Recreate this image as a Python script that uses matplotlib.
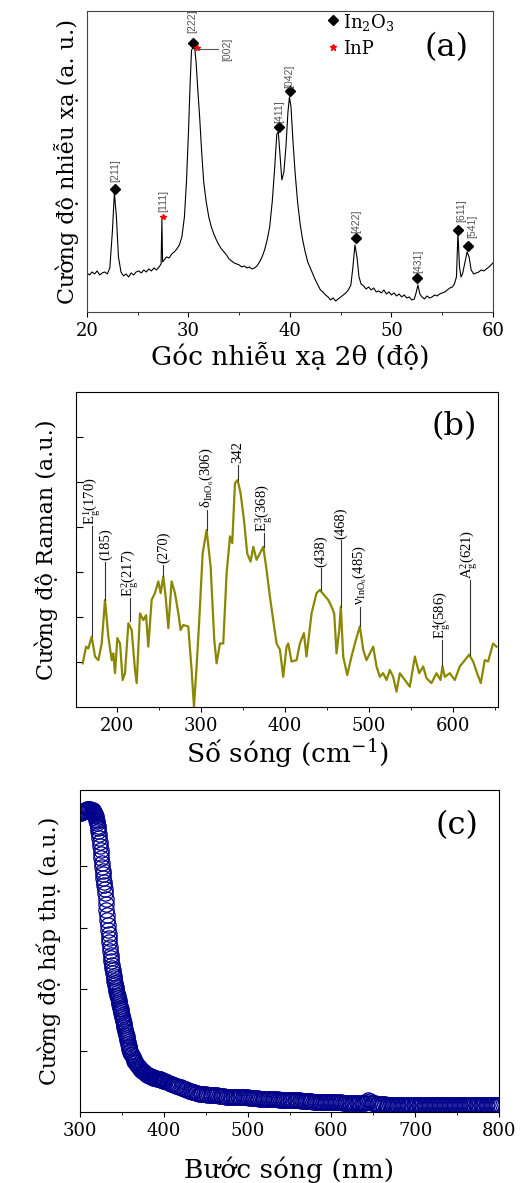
import numpy as np
import matplotlib.pyplot as plt

plt.rcParams['font.family'] = ['DejaVu Serif']
plt.rcParams['mathtext.default'] = 'regular'

# (a) XRD - goc 2theta va cuong do (don vi tuy y)
xrd_x = [20.0, 20.25, 20.5, 20.75, 21.0, 21.25, 21.5, 21.75, 22.0, 22.25, 22.5, 22.7, 22.9, 23.1, 23.35,
         23.6, 23.85, 24.1, 24.35, 24.6, 24.85, 25.1, 25.35, 25.6, 25.85, 26.1, 26.35, 26.6, 26.85, 27.1,
         27.3, 27.38, 27.45, 27.6, 27.85, 28.1, 28.35, 28.6, 28.85, 29.1, 29.35, 29.6, 29.8, 30.0, 30.15,
         30.3, 30.45, 30.6, 30.75, 30.9, 31.1, 31.3, 31.5, 31.75, 32.0, 32.25, 32.5, 32.75, 33.0, 33.25,
         33.5, 33.75, 34.0, 34.25, 34.5, 34.75, 35.0, 35.25, 35.5, 35.75, 36.0, 36.25, 36.5, 36.75, 37.0,
         37.25, 37.5, 37.75, 38.0, 38.25, 38.5, 38.7, 38.85, 39.0, 39.2, 39.4, 39.6, 39.8, 39.95, 40.1,
         40.3, 40.5, 40.75, 41.0, 41.25, 41.5, 41.75, 42.0, 42.25, 42.5, 42.75, 43.0, 43.25, 43.5, 43.75,
         44.0, 44.25, 44.5, 44.75, 45.0, 45.25, 45.5, 45.75, 46.0, 46.2, 46.4, 46.6, 46.8, 47.0, 47.25,
         47.5, 47.75, 48.0, 48.25, 48.5, 48.75, 49.0, 49.25, 49.5, 49.75, 50.0, 50.25, 50.5, 50.75, 51.0,
         51.25, 51.5, 51.75, 52.0, 52.25, 52.45, 52.6, 52.8, 53.0, 53.25, 53.5, 53.75, 54.0, 54.25, 54.5,
         54.75, 55.0, 55.25, 55.5, 55.75, 56.0, 56.2, 56.4, 56.55, 56.7, 56.85, 57.0, 57.2, 57.45, 57.65,
         57.85, 58.1, 58.35, 58.6, 58.85, 59.1, 59.35, 59.6, 59.8, 60.0]
xrd_y = [39, 37, 40, 38, 41, 37, 39, 40, 38, 44, 80, 119, 95, 55, 40,
         36, 38, 35, 39, 37, 40, 41, 39, 42, 40, 43, 41, 44, 42, 45,
         48, 92, 50, 52, 55, 54, 58, 60, 63, 67, 75, 95, 130, 180, 225,
         262, 264, 265, 250, 225, 195, 160, 130, 110, 95, 85, 78, 72, 67, 63,
         60, 57, 53, 51, 49, 48, 47, 45, 46, 44, 45, 43, 44, 46, 50,
         55, 62, 72, 85, 110, 145, 178, 180, 160, 132, 140, 165, 200, 215, 205,
         170, 140, 110, 88, 72, 60, 50, 44, 38, 32, 27, 22, 20, 17, 15,
         12, 14, 11, 13, 15, 17, 19, 22, 27, 45, 67, 55, 35, 28, 26,
         23, 25, 22, 24, 20, 21, 19, 22, 18, 20, 17, 19, 16, 18, 15,
         17, 14, 15, 12, 13, 20, 27, 18, 15, 13, 16, 14, 15, 17, 16,
         18, 19, 20, 22, 24, 25, 28, 35, 79, 45, 35, 38, 48, 60, 55,
         42, 38, 39, 40, 42, 41, 43, 45, 47, 49]

# vi tri cac dinh In2O3 (hinh thoi) va InP (sao)
in2o3_x = [22.8, 30.4, 38.95, 40.0, 46.5, 52.5, 56.6, 57.5]
in2o3_y = [123, 269, 185, 221, 74, 34, 82, 66]
inp_x = [27.45, 30.8]
inp_y = [95, 264]

xrd_lbl = ['[211]', '[111]', '[222]', '[411]', '[042]', '[422]', '[431]', '[611]', '[541]']
xrd_lbl_x = [22.75, 27.5, 30.4, 38.95, 39.95, 46.55, 52.6, 56.9, 58.0]
xrd_lbl_y = [130, 100, 279, 189, 224, 79, 39, 90, 74]

# (b) Raman
raman_x = [159.6, 163.6, 166.3, 170.3, 174.3, 178.2, 182.2, 186.1, 190.1, 194.1, 196.0, 198.0, 200.8,
           204.0, 207.1, 209.9, 213.9, 217.8, 221.8, 223.8, 227.7, 231.7, 234.9, 237.6, 241.6, 245.5,
           249.5, 252.3, 255.4, 258.2, 261.4, 265.3, 269.3, 273.3, 276.0, 279.2, 285.1, 289.1, 291.9,
           295.0, 298.2, 302.2, 306.9, 311.7, 316.0, 318.8, 322.8, 326.7, 330.7, 334.7, 337.4, 340.6,
           343.8, 347.3, 351.3, 355.2, 359.2, 362.4, 366.3, 370.3, 374.3, 378.2, 382.2, 386.1, 390.1,
           394.1, 398.0, 402.0, 404.0, 407.9, 413.9, 417.8, 422.6, 425.7, 431.7, 437.6, 441.6, 446.3,
           451.5, 455.4, 458.6, 461.4, 464.6, 466.5, 469.3, 474.1, 479.2, 484.4, 489.1, 493.1, 497.0,
           501.0, 505.0, 508.9, 512.9, 516.8, 520.8, 524.8, 528.7, 532.7, 536.6, 542.6, 548.5, 554.5,
           559.6, 564.4, 568.3, 574.3, 580.2, 585.0, 587.3, 590.1, 596.0, 602.0, 607.9, 613.9, 619.0,
           623.8, 628.5, 632.9, 637.6, 641.6, 647.5, 651.5]
raman_y = [0.97, 1.34, 1.30, 1.56, 1.12, 1.04, 1.41, 2.38, 1.56, 1.04, 1.19, 0.75, 1.53,
           1.41, 0.60, 0.75, 1.86, 1.71, 0.82, 0.53, 2.08, 1.93, 2.04, 1.34, 2.38, 2.53,
           2.79, 2.53, 2.90, 2.45, 1.75, 2.79, 2.53, 2.08, 1.71, 1.82, 1.79, 0.82, 0.0,
           0.90, 1.93, 3.41, 3.93, 3.12, 1.49, 0.97, 1.41, 1.41, 2.97, 3.79, 3.64, 4.97,
           5.04, 4.75, 4.16, 3.41, 3.23, 3.56, 3.27, 3.41, 3.56, 3.04, 2.45, 1.93, 1.41,
           1.27, 0.67, 1.34, 1.41, 1.01, 1.04, 1.41, 1.64, 1.12, 2.08, 2.53, 2.60, 2.49,
           2.38, 2.23, 2.08, 1.19, 1.71, 2.23, 1.12, 0.71, 1.12, 1.49, 1.79, 1.27, 1.04,
           1.19, 1.34, 0.90, 0.67, 0.75, 0.60, 0.82, 0.67, 0.34, 0.75, 0.60, 0.45, 1.12,
           0.75, 0.90, 0.64, 0.53, 0.75, 0.60, 0.90, 0.67, 0.75, 0.60, 0.90, 1.04, 1.16,
           1.01, 0.75, 0.53, 1.04, 1.01, 1.41, 1.34]

raman_lbl = [r'$E_g^1$(170)', '(185)', r'$E_g^2$(217)', '(270)', r'$\delta_{InO_6}$(306)', '342',
             r'$E_g^3$(368)', '(438)', '(468)', r'$\nu_{InO_6}$(485)', r'$E_g^4$(586)', r'$A_g^2$(621)']
raman_lbl_x = [171.1, 186.5, 215.8, 255.4, 306.9, 343.8, 375.4, 442.4, 466.5, 489.1, 587.3, 619.8]
raman_lbl_y0 = [1.58, 2.38, 1.90, 2.90, 3.93, 5.04, 3.56, 2.60, 2.23, 1.79, 0.90, 1.16]
raman_lbl_y1 = [4.01, 3.23, 2.41, 3.16, 4.38, 5.38, 3.86, 3.08, 3.71, 2.23, 1.49, 2.82]

# (c) hap thu: buoc song (nm)
abs_x = np.concatenate([np.arange(300, 316, 1.0), np.arange(315.5, 360.5, 0.5),
                        np.arange(361, 401, 1.0), np.arange(402, 802, 2.0)])
abs_y = [4.86, 4.87, 4.88, 4.89, 4.90, 4.90, 4.91, 4.92, 4.93, 4.93, 4.93, 4.93, 4.93, 4.92, 4.92, 4.91,
         # 315.5 - 360 (0.5 nm)
         4.90, 4.89, 4.88, 4.87, 4.85, 4.83, 4.81, 4.79, 4.76, 4.73,
         4.70, 4.66, 4.62, 4.57, 4.52, 4.46, 4.40, 4.33, 4.27, 4.20,
         4.13, 4.05, 3.99, 3.93, 3.87, 3.81, 3.75, 3.69, 3.63, 3.56,
         3.47, 3.38, 3.29, 3.20, 3.12, 3.05, 2.97, 2.90, 2.83, 2.76,
         2.69, 2.62, 2.56, 2.51, 2.46, 2.40, 2.35, 2.31, 2.26, 2.22,
         2.18, 2.14, 2.10, 2.07, 2.03, 2.00, 1.97, 1.94, 1.91, 1.88,
         1.85, 1.82, 1.79, 1.76, 1.73, 1.70, 1.67, 1.64, 1.61, 1.58,
         1.55, 1.51, 1.48, 1.45, 1.42, 1.38, 1.35, 1.32, 1.29, 1.26,
         1.23, 1.20, 1.17, 1.14, 1.11, 1.08, 1.05, 1.03, 1.00, 0.98,
         # 361 - 400
         0.95, 0.92, 0.89, 0.86, 0.83, 0.81, 0.79, 0.77, 0.75, 0.73,
         0.71, 0.70, 0.68, 0.67, 0.66, 0.65, 0.64, 0.63, 0.62, 0.61,
         0.60, 0.59, 0.59, 0.58, 0.58, 0.57, 0.56, 0.56, 0.55, 0.55,
         0.55, 0.54, 0.54, 0.53, 0.53, 0.53, 0.52, 0.52, 0.51, 0.51,
         # 402 - 800 (2 nm)
         0.50, 0.49, 0.47, 0.46, 0.45, 0.44, 0.43, 0.42, 0.41, 0.40,
         0.39, 0.38, 0.37, 0.36, 0.35, 0.34, 0.33, 0.32, 0.31, 0.31,
         0.30, 0.30, 0.29, 0.29, 0.29, 0.28, 0.28, 0.28, 0.27, 0.27,
         0.27, 0.27, 0.26, 0.26, 0.26, 0.26, 0.25, 0.25, 0.25, 0.25,
         0.25, 0.25, 0.24, 0.24, 0.24, 0.24, 0.24, 0.24, 0.24, 0.24,
         0.23, 0.23, 0.23, 0.23, 0.23, 0.23, 0.22, 0.22, 0.22, 0.22,
         0.22, 0.22, 0.21, 0.21, 0.21, 0.21, 0.21, 0.21, 0.20, 0.20,
         0.20, 0.20, 0.20, 0.20, 0.19, 0.19, 0.19, 0.19, 0.19, 0.19,
         0.19, 0.18, 0.18, 0.18, 0.18, 0.18, 0.18, 0.18, 0.17, 0.17,
         0.17, 0.17, 0.17, 0.17, 0.17, 0.17, 0.17, 0.17, 0.17, 0.17,
         0.16, 0.16, 0.16, 0.16, 0.16, 0.16, 0.15, 0.15, 0.15, 0.15,
         0.15, 0.15, 0.15, 0.14, 0.14, 0.14, 0.14, 0.14, 0.14, 0.15,
         0.17, 0.19, 0.18, 0.15, 0.14, 0.14, 0.13, 0.13, 0.13, 0.13,
         0.13, 0.13, 0.12, 0.12, 0.12, 0.12, 0.12, 0.12, 0.12, 0.12,
         0.12, 0.12, 0.11, 0.11, 0.11, 0.11, 0.11, 0.11, 0.11, 0.11,
         0.11, 0.11, 0.11, 0.11, 0.11, 0.11, 0.11, 0.11, 0.11, 0.11,
         0.11, 0.11, 0.11, 0.11, 0.11, 0.11, 0.11, 0.11, 0.11, 0.11,
         0.11, 0.11, 0.11, 0.11, 0.11, 0.11, 0.11, 0.11, 0.11, 0.11,
         0.11, 0.11, 0.11, 0.11, 0.11, 0.11, 0.11, 0.11, 0.11, 0.11,
         0.11, 0.11, 0.11, 0.11, 0.11, 0.11, 0.11, 0.11, 0.11, 0.11]

fig = plt.figure(figsize=(5.31, 11.83), dpi=100)

# ---------- (a) ----------
ax1 = fig.add_axes([0.1638, 0.7363, 0.7646, 0.2544])
ax1.plot(xrd_x, xrd_y, color='black', lw=0.8)
ax1.plot(in2o3_x, in2o3_y, 'D', color='black', ms=5, ls='none')
ax1.plot(inp_x, inp_y, '*', color='red', ms=4, ls='none')
for t, x, y in zip(xrd_lbl, xrd_lbl_x, xrd_lbl_y):
    ax1.text(x, y, t, rotation=90, ha='center', va='bottom', fontsize=7.5,
             color='#555555', family='Liberation Sans')
ax1.plot([30.8, 32.9], [263, 263], color='#555555', lw=0.8)
ax1.text(33.8, 263, '[002]', rotation=90, ha='center', va='center', fontsize=7.5,
         color='#555555', family='Liberation Sans')
ax1.plot([44.2], [292], 'D', color='black', ms=5)
ax1.text(45.2, 290, r'In$_2$O$_3$', fontsize=13, va='center')
ax1.plot([44.2], [265], '*', color='red', ms=5)
ax1.text(45.2, 263, 'InP', fontsize=13, va='center')
ax1.text(0.94, 0.88, '(a)', transform=ax1.transAxes, fontsize=23, ha='right', va='center')
ax1.set_xlim(20, 60)
ax1.set_ylim(0, 301)
ax1.set_xticks([20, 30, 40, 50, 60])
ax1.set_xticks([25, 35, 45, 55], minor=True)
ax1.set_yticks([])
ax1.tick_params(axis='x', which='both', direction='out', labelsize=13)
ax1.tick_params(axis='x', which='minor', length=2)
for s in ax1.spines.values():
    s.set_color('#444444')
ax1.set_xlabel('Góc nhiễu xạ 2θ (độ)', fontsize=19, labelpad=2)
ax1.set_ylabel('Cường độ nhiễu xạ (a. u.)', fontsize=16, labelpad=6)

# ---------- (b) ----------
ax2 = fig.add_axes([0.1437, 0.4024, 0.7936, 0.2663])
ax2.plot(raman_x, raman_y, color='#8a8700', lw=1.6)
for t, x, y0, y1 in zip(raman_lbl, raman_lbl_x, raman_lbl_y0, raman_lbl_y1):
    ax2.plot([x, x], [y0, y1], color='#333333', lw=0.8)
    ax2.text(x, y1 + 0.03, t, rotation=90, ha='center', va='bottom', fontsize=10.5,
             family='Liberation Serif')
ax2.text(0.95, 0.89, '(b)', transform=ax2.transAxes, fontsize=23, ha='right', va='center')
ax2.set_xlim(152, 653)
ax2.set_ylim(0, 7)
ax2.set_xticks([200, 300, 400, 500, 600])
ax2.set_xticks([250, 350, 450, 550, 650], minor=True)
ax2.set_yticks([1, 2, 3, 4, 5, 6])
ax2.set_yticklabels([])
ax2.tick_params(axis='x', which='both', direction='out', labelsize=13)
ax2.tick_params(axis='x', which='minor', length=2)
ax2.tick_params(axis='y', direction='in', length=5)
ax2.set_xlabel(r'Số sóng (cm$^{-1}$)', fontsize=19, labelpad=2)
ax2.set_ylabel('Cường độ Raman (a.u.)', fontsize=16, labelpad=10)

# ---------- (c) ----------
ax3 = fig.add_axes([0.1507, 0.060, 0.789, 0.2722])
ax3.plot(abs_x, abs_y, 'o', mfc='none', mec='#00008b', mew=0.9, ms=11, ls='none')
ax3.text(0.95, 0.89, '(c)', transform=ax3.transAxes, fontsize=23, ha='right', va='center')
ax3.set_xlim(300, 800)
ax3.set_ylim(0, 5.24)
ax3.set_xticks([300, 400, 500, 600, 700, 800])
ax3.set_xticks([350, 450, 550, 650, 750], minor=True)
ax3.set_yticks([1, 2, 3, 4])
ax3.set_yticklabels([])
ax3.tick_params(axis='x', which='both', direction='out', labelsize=13)
ax3.tick_params(axis='x', which='minor', length=2)
ax3.tick_params(axis='y', direction='in', length=5)
ax3.set_xlabel('Bước sóng (nm)', fontsize=19, labelpad=12)
ax3.set_ylabel('Cường độ hấp thụ (a.u.)', fontsize=16, labelpad=10)

fig.savefig('out.png', dpi=100)
